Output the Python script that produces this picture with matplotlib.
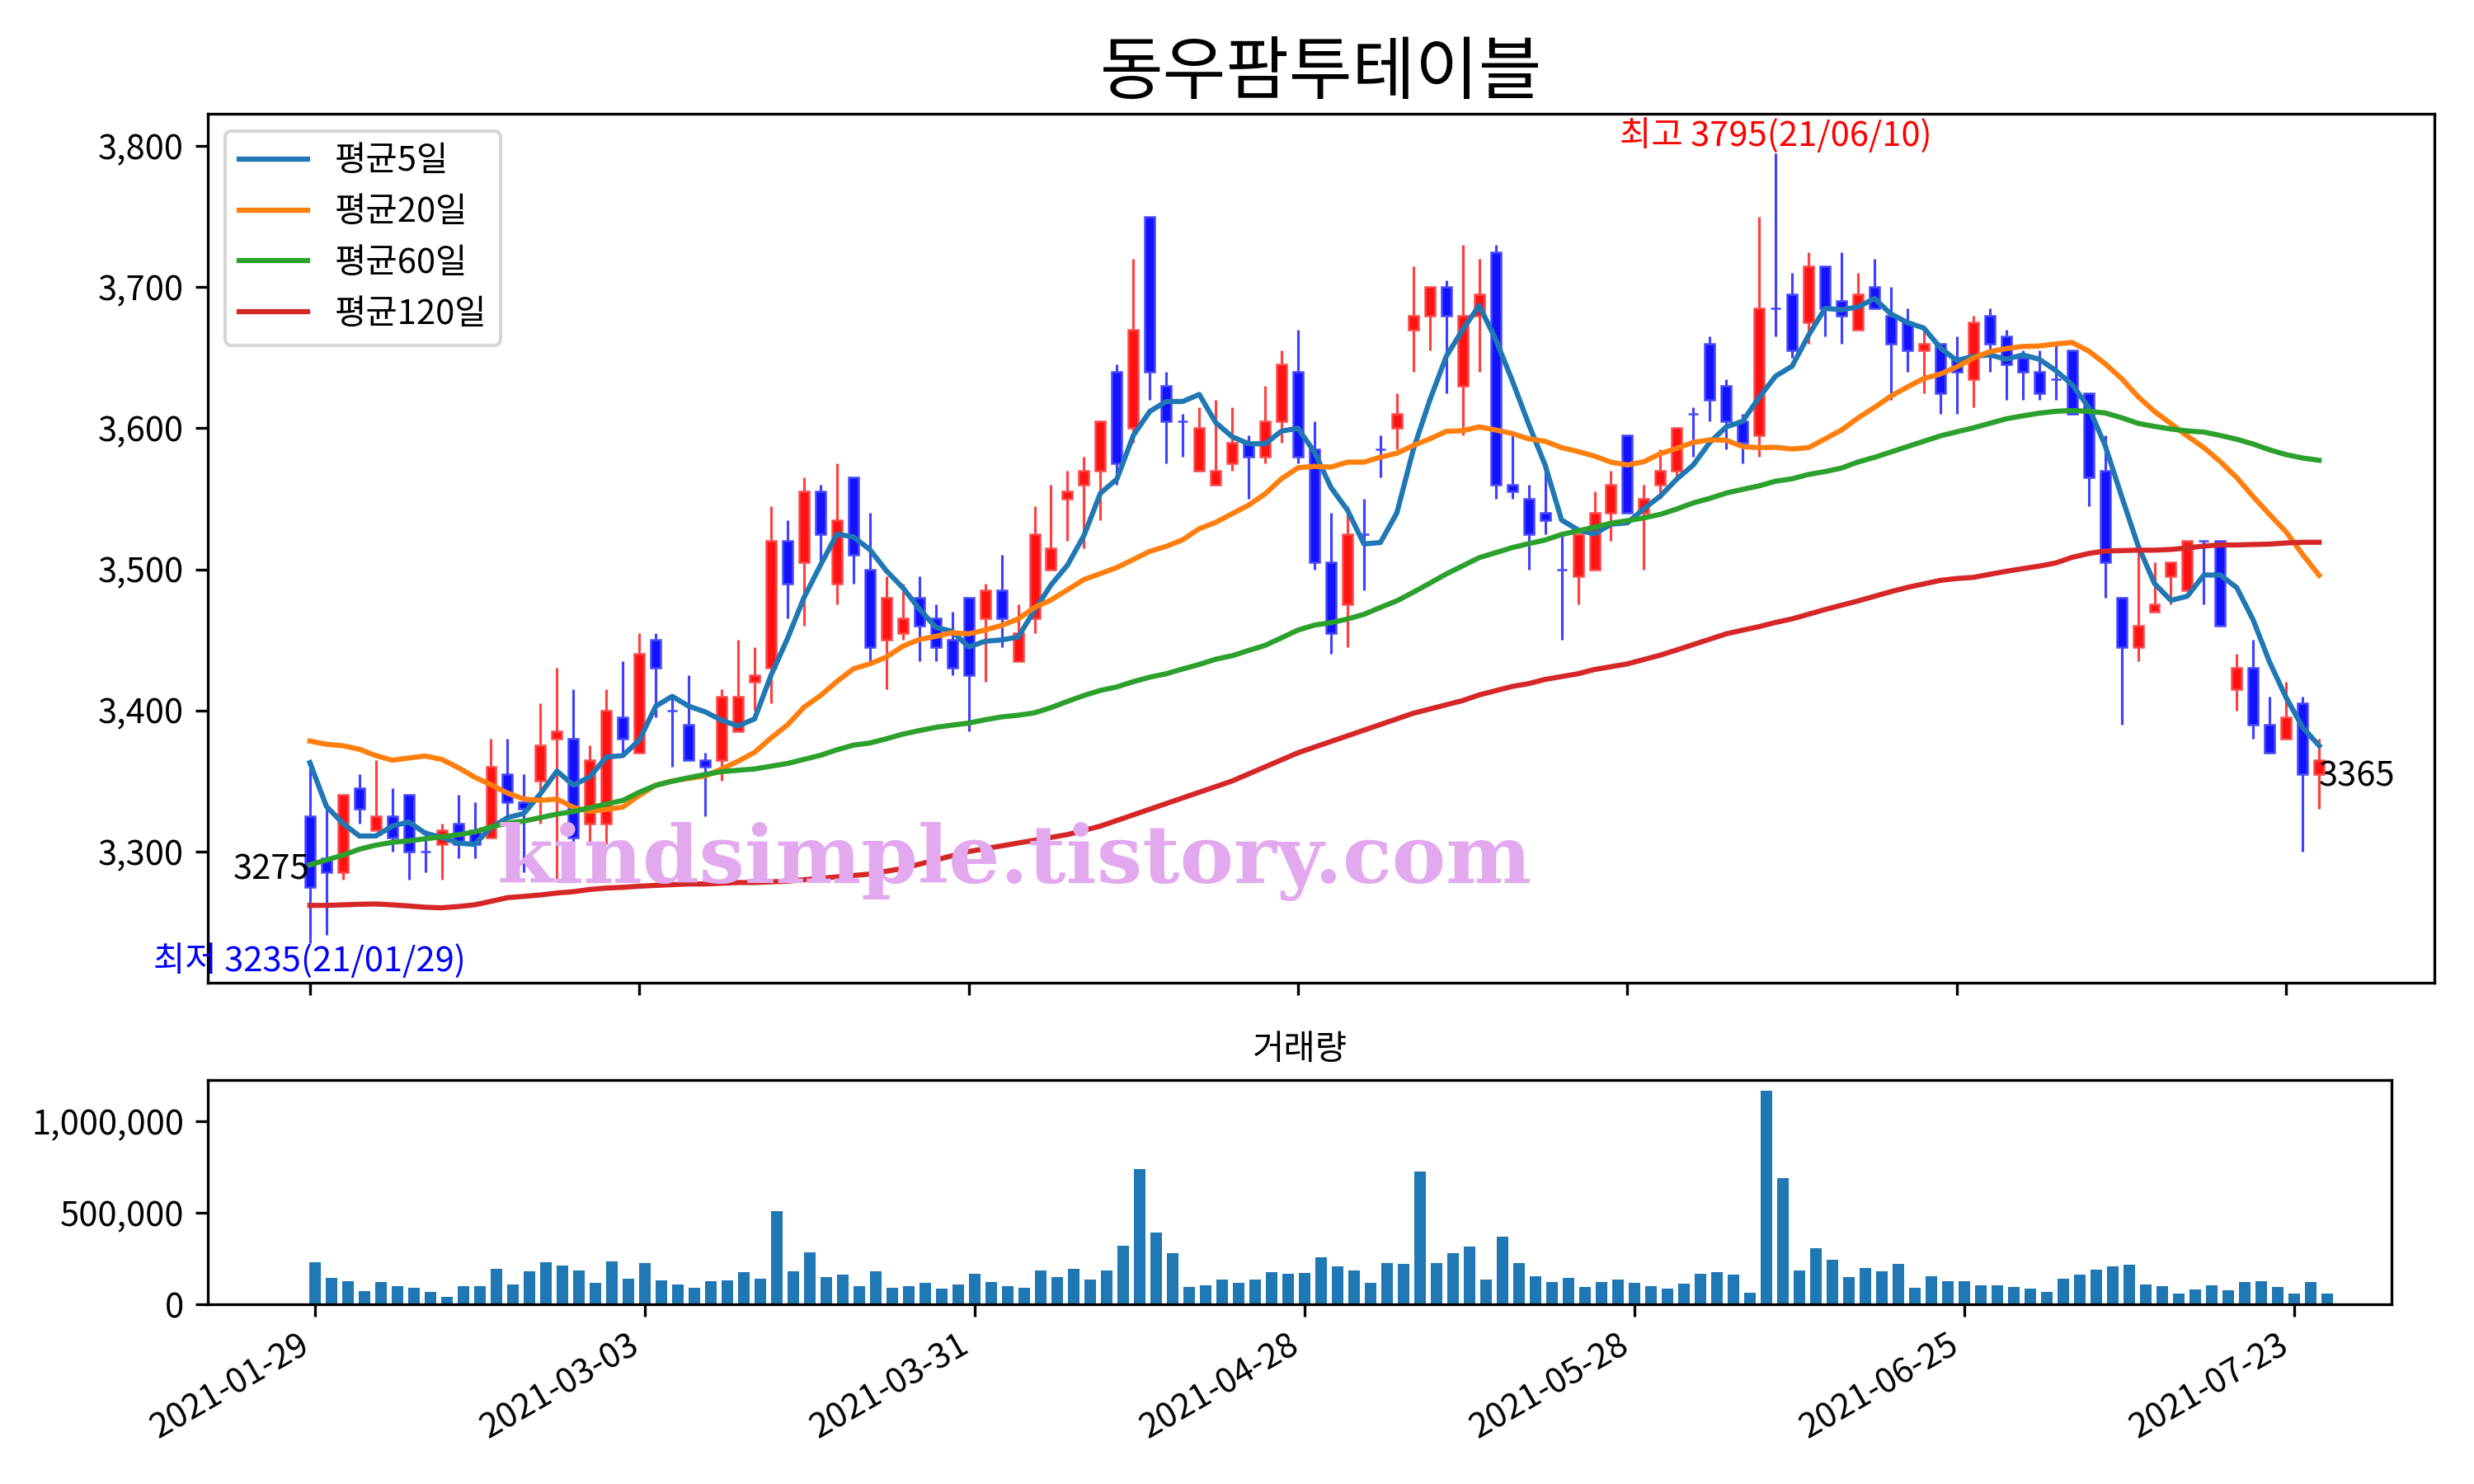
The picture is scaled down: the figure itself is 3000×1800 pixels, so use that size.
import matplotlib
matplotlib.use("Agg")
import matplotlib.pyplot as plt
from matplotlib.ticker import FuncFormatter

plt.rcParams['font.family'] = ['Noto Sans CJK KR', 'DejaVu Sans']
plt.rcParams['axes.unicode_minus'] = False

# ---------------- data ----------------
opens = [3325, 3295, 3285, 3345, 3315, 3325, 3340, 3300, 3305, 3320,
         3315, 3310, 3355, 3335, 3350, 3380, 3380, 3320, 3320, 3395,
         3370, 3450, 3400, 3390, 3365, 3365, 3385, 3420, 3430, 3520,
         3505, 3555, 3490, 3565, 3500, 3450, 3455, 3480, 3465, 3450,
         3480, 3465, 3485, 3435, 3465, 3500, 3550, 3560, 3570, 3640,
         3600, 3750, 3630, 3605, 3570, 3560, 3575, 3590, 3580, 3605,
         3640, 3585, 3505, 3475, 3525, 3585, 3600, 3670, 3680, 3700,
         3630, 3680, 3725, 3560, 3550, 3540, 3500, 3495, 3500, 3540,
         3595, 3540, 3560, 3570, 3610, 3660, 3630, 3605, 3595, 3685,
         3695, 3675, 3715, 3690, 3670, 3700, 3680, 3675, 3655, 3660,
         3650, 3635, 3680, 3665, 3650, 3640, 3635, 3655, 3625, 3570,
         3480, 3445, 3470, 3495, 3485, 3520, 3520, 3415, 3430, 3390,
         3380, 3405, 3355]
highs = [3365, 3335, 3340, 3355, 3365, 3345, 3340, 3315, 3320, 3340,
         3335, 3380, 3380, 3355, 3405, 3430, 3415, 3375, 3415, 3435,
         3455, 3455, 3410, 3425, 3370, 3415, 3450, 3445, 3545, 3535,
         3565, 3560, 3575, 3565, 3540, 3495, 3490, 3495, 3475, 3470,
         3480, 3490, 3510, 3475, 3545, 3560, 3570, 3580, 3605, 3645,
         3720, 3750, 3640, 3610, 3615, 3620, 3615, 3595, 3630, 3655,
         3670, 3605, 3540, 3545, 3550, 3595, 3625, 3715, 3700, 3705,
         3730, 3720, 3730, 3595, 3560, 3575, 3525, 3525, 3555, 3570,
         3595, 3560, 3585, 3600, 3615, 3665, 3635, 3610, 3750, 3795,
         3710, 3725, 3715, 3725, 3710, 3720, 3700, 3685, 3670, 3660,
         3665, 3680, 3685, 3670, 3655, 3655, 3660, 3655, 3625, 3595,
         3480, 3515, 3505, 3505, 3520, 3520, 3520, 3440, 3450, 3410,
         3420, 3410, 3380]
lows = [3235, 3241, 3280, 3320, 3315, 3300, 3280, 3285, 3280, 3295,
        3295, 3310, 3325, 3285, 3320, 3280, 3305, 3305, 3305, 3370,
        3370, 3395, 3360, 3365, 3325, 3350, 3385, 3400, 3405, 3465,
        3460, 3505, 3475, 3490, 3435, 3415, 3450, 3435, 3435, 3425,
        3385, 3420, 3445, 3435, 3455, 3500, 3520, 3515, 3535, 3560,
        3590, 3620, 3575, 3580, 3570, 3560, 3570, 3550, 3575, 3590,
        3575, 3500, 3440, 3445, 3485, 3565, 3585, 3640, 3655, 3625,
        3595, 3640, 3550, 3550, 3500, 3525, 3450, 3475, 3500, 3520,
        3540, 3500, 3550, 3565, 3580, 3605, 3585, 3575, 3580, 3665,
        3650, 3660, 3665, 3660, 3670, 3685, 3620, 3640, 3625, 3610,
        3610, 3615, 3640, 3620, 3620, 3620, 3620, 3610, 3545, 3480,
        3390, 3435, 3470, 3475, 3485, 3475, 3460, 3400, 3380, 3370,
        3380, 3300, 3330]
closes = [3275, 3285, 3340, 3330, 3325, 3310, 3300, 3300, 3315, 3305,
          3305, 3360, 3335, 3330, 3375, 3385, 3310, 3365, 3400, 3380,
          3440, 3430, 3400, 3365, 3360, 3410, 3410, 3425, 3520, 3490,
          3555, 3525, 3535, 3510, 3445, 3480, 3465, 3460, 3445, 3430,
          3425, 3485, 3465, 3455, 3525, 3515, 3555, 3570, 3605, 3575,
          3670, 3640, 3605, 3605, 3600, 3570, 3590, 3580, 3605, 3645,
          3580, 3505, 3455, 3525, 3525, 3585, 3610, 3680, 3700, 3680,
          3680, 3695, 3560, 3555, 3525, 3535, 3500, 3525, 3540, 3560,
          3540, 3550, 3570, 3600, 3610, 3620, 3605, 3590, 3685, 3685,
          3655, 3715, 3685, 3680, 3695, 3685, 3660, 3655, 3660, 3625,
          3640, 3675, 3660, 3645, 3640, 3625, 3635, 3610, 3565, 3505,
          3445, 3460, 3475, 3505, 3520, 3520, 3460, 3430, 3390, 3370,
          3395, 3355, 3365]
volumes = [228600, 143900, 126100, 72600, 121600, 99400, 90500, 68200, 41400, 99400,
           99400, 192900, 108300, 179600, 228600, 210800, 184000, 117200, 233000, 139500,
           224100, 130600, 108300, 90500, 126100, 130600, 175100, 139500, 509300, 179600,
           286500, 148400, 161800, 99400, 179600, 90500, 99400, 117200, 86000, 108300,
           166200, 121600, 99400, 90500, 184000, 148400, 192900, 135000, 184000, 322200,
           741000, 393500, 277600, 94900, 103800, 135000, 117200, 135000, 175100, 166200,
           170700, 255300, 206300, 184000, 117200, 224100, 219700, 727700, 224100, 277600,
           317700, 135000, 371200, 224100, 152800, 121600, 143900, 94900, 121600, 135000,
           117200, 99400, 86000, 112700, 166200, 175100, 161800, 63700, 1168800, 692000,
           184000, 308800, 242000, 148400, 197400, 179600, 219700, 90500, 152800, 126100,
           126100, 103800, 103800, 94900, 86000, 68200, 139500, 161800, 188500, 206300,
           215200, 108300, 99400, 59300, 81500, 103800, 77100, 121600, 126100, 94900,
           59300, 121600, 59300]
ma5 = [3363, 3332, 3320, 3311, 3311, 3318, 3321, 3313, 3310, 3306,
       3305, 3317, 3324, 3327, 3341, 3357, 3347, 3353, 3367, 3368,
       3379, 3403, 3410, 3403, 3399, 3393, 3389, 3394, 3425, 3451,
       3480, 3503, 3525, 3523, 3514, 3499, 3487, 3472, 3459, 3456,
       3445, 3449, 3450, 3452, 3471, 3489, 3503, 3524, 3554, 3564,
       3595, 3612, 3619, 3619, 3624, 3604, 3594, 3589, 3589, 3598,
       3600, 3583, 3558, 3542, 3518, 3519, 3540, 3585, 3620, 3651,
       3670, 3687, 3663, 3634, 3603, 3574, 3535, 3528, 3525, 3532,
       3533, 3543, 3552, 3564, 3574, 3590, 3601, 3605, 3622, 3637,
       3644, 3666, 3685, 3684, 3686, 3692, 3681, 3675, 3671, 3657,
       3648, 3651, 3652, 3649, 3652, 3649, 3641, 3631, 3615, 3588,
       3552, 3517, 3490, 3478, 3481, 3496, 3496, 3487, 3464, 3434,
       3409, 3388, 3375]
ma20 = [3378.3, 3376.0, 3375.0, 3372.5, 3368.0, 3364.7, 3366.3, 3367.7, 3365.3, 3359.5,
        3352.7, 3347.3, 3341.4, 3337.2, 3336.2, 3337.2, 3331.3, 3328.4, 3329.8, 3331.5,
        3339.8, 3347.0, 3350.0, 3351.8, 3353.5, 3358.5, 3364.0, 3370.3, 3380.5, 3389.8,
        3402.3, 3410.5, 3420.5, 3429.5, 3433.0, 3437.8, 3445.5, 3450.3, 3452.5, 3455.0,
        3454.3, 3457.0, 3460.3, 3464.8, 3473.0, 3478.3, 3485.5, 3492.8, 3497.0, 3501.3,
        3507.0, 3512.8, 3516.3, 3521.0, 3528.8, 3533.3, 3539.5, 3545.5, 3553.5, 3564.3,
        3572.0, 3573.0, 3572.5, 3576.0, 3576.0, 3579.5, 3582.3, 3587.8, 3592.5, 3597.8,
        3598.3, 3601.0, 3598.8, 3596.3, 3592.5, 3590.8, 3586.3, 3583.5, 3580.3, 3576.0,
        3574.0, 3576.3, 3582.0, 3585.8, 3590.0, 3591.8, 3591.5, 3587.0, 3586.3, 3586.5,
        3585.3, 3586.3, 3592.5, 3598.8, 3607.3, 3614.8, 3622.8, 3629.3, 3635.3, 3638.5,
        3643.5, 3649.8, 3654.3, 3656.5, 3658.0, 3658.3, 3659.8, 3660.8, 3654.8, 3645.8,
        3635.3, 3622.5, 3612.0, 3603.3, 3594.5, 3586.3, 3576.3, 3565.0, 3551.5, 3538.8,
        3526.5, 3510.5, 3495.8]
ma60 = [3290.6, 3294.0, 3297.4, 3301.6, 3304.5, 3306.5, 3307.6, 3309.0, 3310.4, 3311.9,
        3313.9, 3317.4, 3320.1, 3321.6, 3324.0, 3326.5, 3328.4, 3331.0, 3333.7, 3336.2,
        3342.0, 3346.9, 3349.8, 3352.3, 3354.6, 3356.6, 3357.6, 3358.5, 3360.5, 3362.4,
        3365.3, 3368.2, 3372.1, 3375.4, 3376.9, 3379.9, 3383.2, 3385.7, 3388.0, 3389.6,
        3391.0, 3393.4, 3395.4, 3396.6, 3398.3, 3402.0, 3406.4, 3410.6, 3414.2, 3416.7,
        3420.4, 3423.6, 3426.0, 3429.4, 3432.6, 3436.3, 3438.8, 3442.5, 3446.1, 3451.5,
        3457.0, 3460.5, 3462.2, 3464.8, 3468.1, 3473.0, 3477.7, 3483.8, 3490.2, 3496.7,
        3502.5, 3508.3, 3511.8, 3515.4, 3518.2, 3520.8, 3524.7, 3527.3, 3529.9, 3532.7,
        3534.5, 3536.5, 3539.0, 3542.8, 3547.1, 3550.3, 3554.1, 3556.7, 3559.2, 3562.5,
        3564.2, 3567.3, 3569.3, 3571.8, 3576.1, 3579.4, 3583.2, 3587.0, 3590.8, 3594.6,
        3597.5, 3600.3, 3603.5, 3606.7, 3608.8, 3610.7, 3612.0, 3612.6, 3612.0, 3610.9,
        3607.5, 3603.5, 3601.3, 3599.5, 3598.1, 3597.3, 3594.9, 3592.2, 3588.8, 3584.7,
        3581.3, 3578.9, 3577.3]
ma120 = [3261.8, 3261.8, 3262.2, 3262.6, 3262.8, 3262.2, 3261.4, 3260.5, 3260.1, 3261.0,
         3262.2, 3264.7, 3267.3, 3268.2, 3269.2, 3270.6, 3271.5, 3273.1, 3274.1, 3274.6,
         3275.4, 3276.0, 3276.5, 3277.0, 3277.0, 3277.5, 3278.0, 3278.0, 3278.5, 3279.0,
         3280.0, 3281.0, 3282.0, 3283.0, 3284.0, 3286.0, 3288.0, 3291.0, 3294.0, 3297.0,
         3300.0, 3302.0, 3304.0, 3306.0, 3308.0, 3310.0, 3312.0, 3315.0, 3318.0, 3322.0,
         3326.0, 3330.0, 3334.0, 3338.0, 3342.0, 3346.0, 3350.0, 3355.0, 3360.0, 3365.0,
         3370.0, 3374.0, 3378.0, 3382.0, 3386.0, 3390.0, 3394.0, 3398.0, 3401.0, 3404.0,
         3407.0, 3411.0, 3414.0, 3417.0, 3419.0, 3422.0, 3424.0, 3426.0, 3429.0, 3431.0,
         3433.0, 3436.1, 3439.2, 3442.9, 3446.7, 3450.5, 3454.3, 3456.9, 3459.4, 3462.4,
         3464.9, 3468.2, 3471.5, 3474.6, 3477.6, 3480.9, 3484.2, 3487.2, 3489.7, 3492.2,
         3493.5, 3494.3, 3496.5, 3498.6, 3500.5, 3502.3, 3504.5, 3508.5, 3511.2, 3513.0,
         3513.3, 3513.6, 3513.6, 3514.1, 3515.2, 3516.5, 3517.3, 3517.3, 3517.6, 3517.9,
         3518.7, 3519.2, 3519.2]
tick_labels = ['2021-01-29', '2021-03-03', '2021-03-31', '2021-04-28',
               '2021-05-28', '2021-06-25', '2021-07-23']
tick_pos = [0, 20, 40, 60, 80, 100, 120]
title = '동우팜투테이블'
ma_labels = ['평균5일', '평균20일', '평균60일', '평균120일']

# ---------------- figure ----------------
fig = plt.figure(figsize=(10, 6), dpi=300)
ax = fig.add_axes([0.084, 0.3378, 0.900, 0.5856])
axv = fig.add_axes([0.084, 0.1211, 0.8827, 0.1511])

n = len(closes)
x = list(range(n))

up_face, up_edge, up_wick = '#ff1212', '#ff4848', '#ff4040'
dn_face, dn_edge, dn_wick = '#1212ff', '#4848ff', '#4040ff'

for i in x:
    o, h, l, c = opens[i], highs[i], lows[i], closes[i]
    up = c > o
    wc = up_wick if up else dn_wick
    fc = up_face if up else dn_face
    ec = up_edge if up else dn_edge
    ax.vlines(i, l, h, color=wc, linewidth=0.75, zorder=2)
    ax.bar(i, abs(c - o), bottom=min(o, c), width=0.6, color=fc,
           edgecolor=ec, linewidth=0.6, zorder=3)

ax.plot(x, ma5, color='#1f77b4', lw=1.5, label=ma_labels[0], zorder=4)
ax.plot(x, ma20, color='#ff7f0e', lw=1.5, label=ma_labels[1], zorder=4)
ax.plot(x, ma60, color='#2ca02c', lw=1.5, label=ma_labels[2], zorder=4)
ax.plot(x, ma120, color='#d62728', lw=1.5, label=ma_labels[3], zorder=4)

ax.set_xlim(-6.2, 129.0)
ax.set_ylim(3207, 3823)
ax.set_xticks(tick_pos)
ax.set_xticklabels([])
ax.set_yticks([3300, 3400, 3500, 3600, 3700, 3800])
ax.yaxis.set_major_formatter(FuncFormatter(lambda v, p: f'{int(v):,}'))
ax.tick_params(labelsize=10)
ax.legend(loc='upper left', fontsize=10)
ax.set_title(title, fontsize=20)

# annotations
imax = highs.index(max(highs))
imin = lows.index(min(lows))
ax.text(imax, highs[imax], f'최고 {highs[imax]}(21/06/10)', color='red',
        ha='center', va='bottom', fontsize=10, zorder=6)
ax.text(imin, lows[imin], f'최저 {lows[imin]}(21/01/29)', color='blue',
        ha='center', va='top', fontsize=10, zorder=6)
ax.text(0, closes[0], f'{closes[0]}', color='black', ha='right', va='bottom',
        fontsize=10, zorder=6)
ax.text(n - 1, closes[-1], f'{closes[-1]}', color='black', ha='left', va='top',
        fontsize=10, zorder=6)

# watermark
fig.text(0.41, 0.4195, 'kindsimple.tistory.com', color='#e2a9ef',
         fontsize=23.6, fontweight='bold', family='DejaVu Serif',
         ha='center', va='center', zorder=10)

# volume
axv.bar(x, volumes, width=0.7, color='#1f77b4')
axv.set_xlim(-6.5, 125.9)
axv.set_xticks(tick_pos)
axv.set_xticklabels(tick_labels, rotation=30, ha='right')
axv.yaxis.set_major_formatter(FuncFormatter(lambda v, p: f'{int(v):,}'))
axv.set_yticks([0, 500000, 1000000])
axv.tick_params(labelsize=10)
axv.set_title('거래량', fontsize=10)

fig.savefig('out.png', dpi=300)
